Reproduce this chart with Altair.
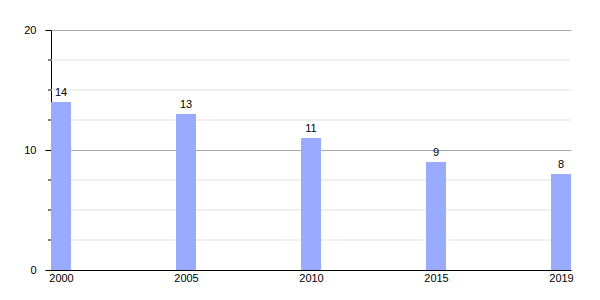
import altair as alt
import pandas as pd

years = ["2000", "2005", "2010", "2015", "2019"]
values = [14, 13, 11, 9, 8]
major_ticks = [0, 10, 20]
minor_ticks = [2.5, 5, 7.5, 12.5, 15, 17.5]

df = pd.DataFrame({"year": years, "value": values})
minor_df = pd.DataFrame({"value": minor_ticks})

FONT = "Liberation Sans"

x = alt.X("year:N", sort=years,
          scale=alt.Scale(type="point", padding=0.08),
          axis=alt.Axis(title=None, labelAngle=0, ticks=False, domainColor="#000",
                        labelFont=FONT, labelFontSize=11, labelColor="#000", labelPadding=2,
                        grid=False))
yscale = alt.Scale(domain=[0, 20], nice=False)
yaxis = alt.Axis(title=None, values=major_ticks, gridColor="#aaaaaa",
                 tickSize=6, tickColor="#000", domainColor="#000",
                 labelFont=FONT, labelFontSize=11, labelColor="#000", labelPadding=9)
y = alt.Y("value:Q", scale=yscale, axis=yaxis)

minor_grid = alt.Chart(minor_df).mark_rule(color="#e2e2e2", strokeWidth=1).encode(y=y)
minor_tick = alt.Chart(minor_df).mark_rule(color="#000", strokeWidth=1).encode(
    y=y, x=alt.value(-3), x2=alt.value(0))

bars = alt.Chart(df).mark_bar(size=20, color="#99abff").encode(x=x, y=y)
labels = alt.Chart(df).mark_text(baseline="bottom", dy=-4, font=FONT, fontSize=11, color="#000").encode(
    x=x, y=y, text="value:Q")

chart = alt.layer(minor_grid, bars, labels, minor_tick).properties(
    width=520, height=240,
    background="white",
    autosize=alt.AutoSizeParams(type="none"),
    padding={"left": 51, "top": 30, "right": 29, "bottom": 30},
).configure_view(strokeWidth=0, stroke=None)

chart.save("out.html", embed_options={"renderer": "svg", "actions": False})
